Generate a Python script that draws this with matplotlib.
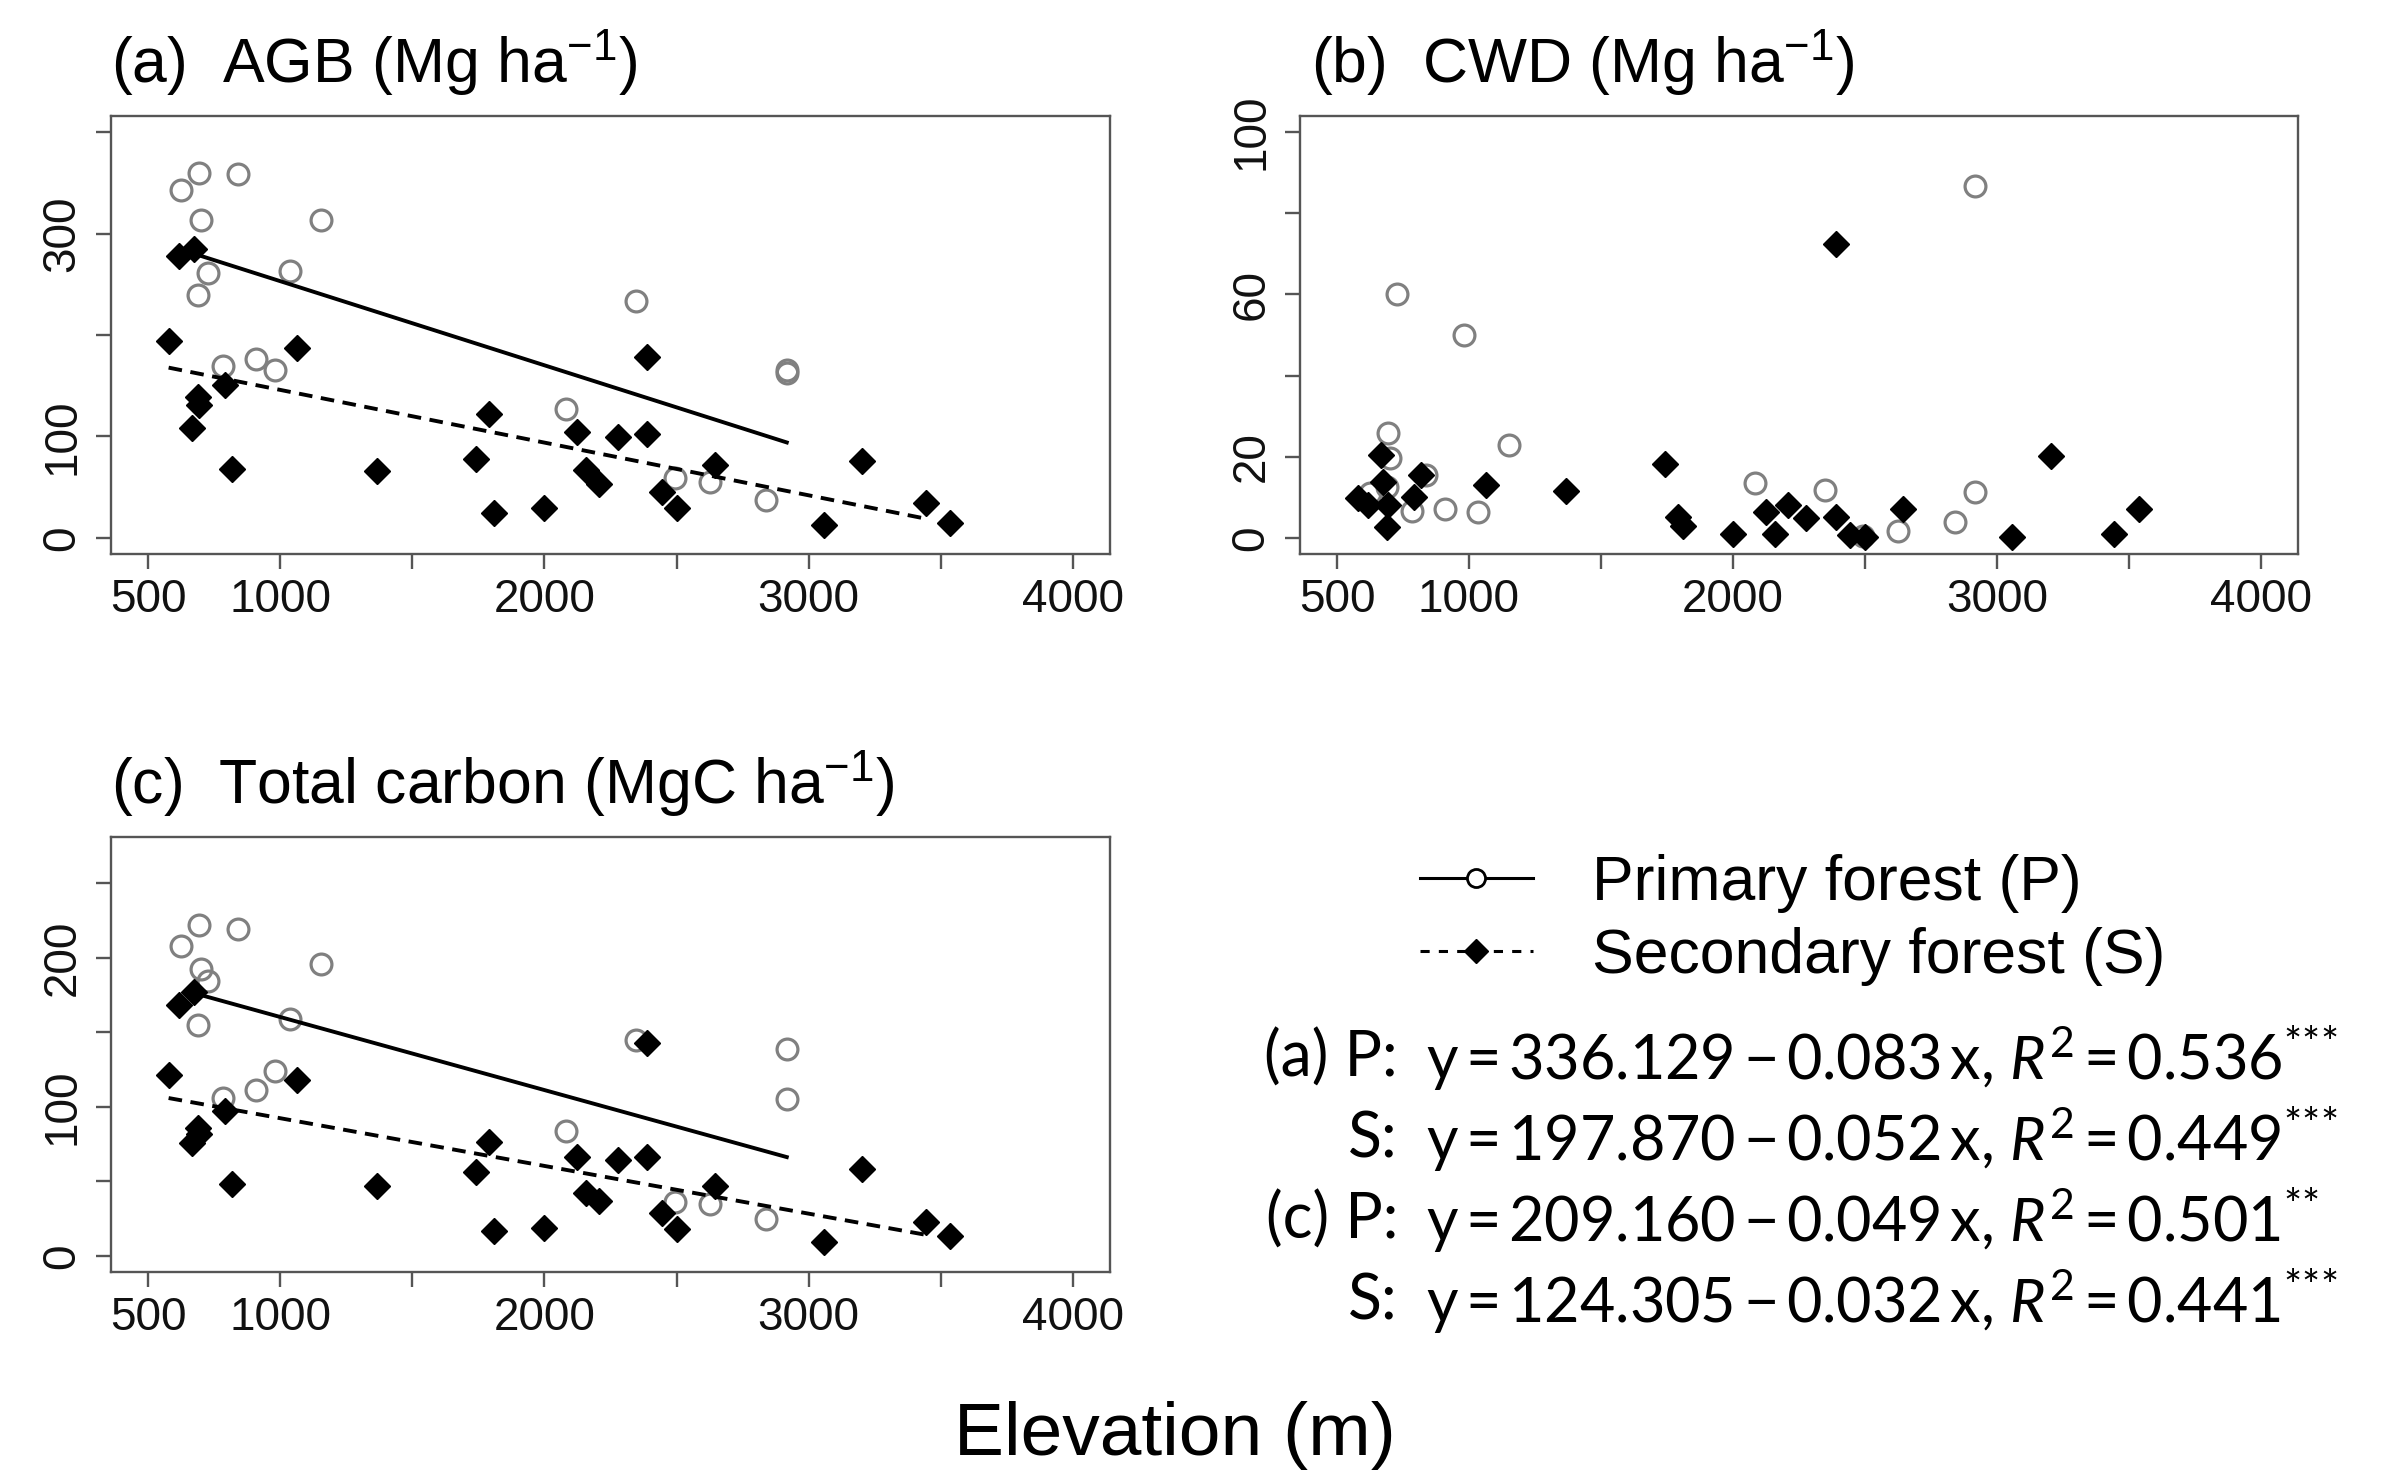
import matplotlib
matplotlib.use("Agg")
import matplotlib.pyplot as plt
from matplotlib.lines import Line2D

plt.rcParams['font.family'] = ['Liberation Sans', 'DejaVu Sans']
plt.rcParams['mathtext.fontset'] = 'custom'
plt.rcParams['mathtext.rm'] = 'Lato'
plt.rcParams['mathtext.it'] = 'Lato:italic'

# Elevation of plots (m)
p_elev = [625, 694, 700, 728, 689, 839, 1153, 1036, 783, 908, 981,
          2347, 2917, 2917, 2083, 2494, 2625, 2839]
s_elev = [578, 619, 675, 667, 689, 694, 792, 819, 1064, 1367, 1742, 1792,
          1811, 2000, 2125, 2158, 2208, 2278, 2389, 2389, 2444, 2500, 2644,
          3056, 3203, 3444, 3536]

# (a) AGB
p_agb = [343, 360, 313, 261, 239, 359, 313, 263, 169, 176, 165,
         234, 163, 165, 127, 59, 55, 37]
s_agb = [194, 278, 285, 108, 139, 131, 151, 68, 187, 66, 78, 122,
         24, 29, 104, 67, 53, 99, 178, 102, 45, 29, 72,
         13, 76, 34, 15]

# (b) CWD
p_cwd = [11, 25.9, 19.6, 60, 12.6, 15.4, 23, 6.3, 6.6, 7.2, 49.9,
         11.7, 86.7, 11.4, 13.5, 0.5, 1.7, 3.9]
s_cwd = [9.8, 8.0, 13.8, 20.4, 2.6, 8.0, 10.1, 15.4, 13.1, 11.5, 18.3, 5.1,
         2.8, 1.0, 6.3, 1.0, 8.2, 4.8, 72.4, 5.1, 0.7, 0.2, 7.1,
         0.2, 20.2, 1.0, 7.1]

# (c) Total carbon
p_tc = [208, 222, 192, 184, 155, 219, 196, 159, 106, 111, 124,
        145, 139, 105, 84, 36, 35, 25]
s_tc = [121, 168, 177, 76, 86, 82, 97, 48.5, 118, 47, 56, 76.6,
        17, 19, 66, 42, 37, 64, 143, 66, 29, 18, 47,
        9, 58, 23, 13]

# regression fits (intercept, slope) and line extents
fit_a = {'P': (336.129, -0.083), 'S': (197.870, -0.052)}
fit_c = {'P': (209.160, -0.049), 'S': (124.305, -0.032)}
p_line_x = [694, 2917]
s_line_x = [578, 3444]

xticks = [500, 1000, 1500, 2000, 2500, 3000, 3500, 4000]
xticklabels = ['500', '1000', '', '2000', '', '3000', '', '4000']

ts = '\u2009'  # thin space
equations = [
    ('(a) P:', 'y' + ts + '=' + ts + '336.129' + ts + '−' + ts + '0.083' + ts + 'x, '
     r'$\mathit{R}^{2}$' + ts + '=' + ts + '0.536$^{{*}{*}{*}}$'),
    ('S:', 'y' + ts + '=' + ts + '197.870' + ts + '−' + ts + '0.052' + ts + 'x, '
     r'$\mathit{R}^{2}$' + ts + '=' + ts + '0.449$^{{*}{*}{*}}$'),
    ('(c) P:', 'y' + ts + '=' + ts + '209.160' + ts + '−' + ts + '0.049' + ts + 'x, '
     r'$\mathit{R}^{2}$' + ts + '=' + ts + '0.501$^{{*}{*}}$'),
    ('S:', 'y' + ts + '=' + ts + '124.305' + ts + '−' + ts + '0.032' + ts + 'x, '
     r'$\mathit{R}^{2}$' + ts + '=' + ts + '0.441$^{{*}{*}{*}}$'),
]

W, H = 2397, 1480
fig = plt.figure(figsize=(W / 100, H / 100), dpi=100)

def px_box(left, top, right, bottom):
    return [left / W, 1 - bottom / H, (right - left) / W, (bottom - top) / H]

ax_a = fig.add_axes(px_box(111, 116, 1110, 554))
ax_b = fig.add_axes(px_box(1300, 116, 2298, 554))
ax_c = fig.add_axes(px_box(111, 837, 1110, 1272))

grey = '#808080'
edge = '#555555'


def panel(ax, pv, sv, ylim, yticks, yticklabels, fit=None):
    ax.plot(p_elev, pv, linestyle='none', marker='o', ms=15, mfc='none',
            mec=grey, mew=2.3, zorder=2)
    ax.plot(s_elev, sv, linestyle='none', marker='D', ms=13.5, mfc='black',
            mec='black', mew=1, zorder=3)
    if fit:
        b0, b1 = fit['P']
        ax.plot(p_line_x, [b0 + b1 * x for x in p_line_x], color='black',
                lw=2.8, zorder=4)
        b0, b1 = fit['S']
        ax.plot(s_line_x, [b0 + b1 * x for x in s_line_x], color='black',
                lw=2.8, linestyle=(0, (3.5, 2.2)), zorder=4)
    ax.set_xlim(360, 4140)
    pad = 0.04 * (ylim[1] - ylim[0])
    ax.set_ylim(ylim[0] - pad, ylim[1] + pad)
    ax.set_xticks(xticks)
    ax.set_xticklabels(xticklabels)
    ax.set_yticks(yticks)
    ax.set_yticklabels(yticklabels)
    for s in ax.spines.values():
        s.set_color(edge)
        s.set_linewidth(1.7)
    ax.tick_params(length=11, width=1.7, color=edge, labelsize=33,
                   labelcolor='#111111')
    ax.tick_params(axis='x', pad=6)
    ax.tick_params(axis='y', pad=8)
    plt.setp(ax.get_yticklabels(), rotation=90, va='center')


panel(ax_a, p_agb, s_agb, (0, 400), [0, 100, 200, 300, 400],
      ['0', '100', '', '300', ''], fit_a)
panel(ax_b, p_cwd, s_cwd, (0, 100), [0, 20, 40, 60, 80, 100],
      ['0', '20', '', '60', '', '100'])
panel(ax_c, p_tc, s_tc, (0, 270), [0, 50, 100, 150, 200, 250],
      ['0', '', '100', '', '200', ''], fit_c)

# panel titles
tsize = 45
fig.text(111 / W, 1 - 83 / H, '(a)  AGB (Mg ha$^{\\mathregular{−1}}$)',
         fontsize=tsize, va='baseline', ha='left')
fig.text(1311 / W, 1 - 83 / H, '(b)  CWD (Mg ha$^{\\mathregular{−1}}$)',
         fontsize=tsize, va='baseline', ha='left')
fig.text(111 / W, 1 - 804 / H, '(c)  Total carbon (MgC ha$^{\\mathregular{−1}}$)',
         fontsize=tsize, va='baseline', ha='left')

# legend
handles = [
    Line2D([], [], color='black', lw=2.2, marker='o', ms=13, mfc='white',
           mec='black', mew=2),
    Line2D([], [], color='black', lw=2.2, linestyle=(0, (3, 3)), marker='D',
           ms=12, mfc='black', mec='black'),
]
fig.legend(handles, ['Primary forest (P)', 'Secondary forest (S)'],
           loc='upper left', bbox_to_anchor=(1420 / W, 1 - 854 / H),
           frameon=False, fontsize=45, handlelength=1.8, handletextpad=0.95,
           borderpad=0, borderaxespad=0, labelspacing=0.22)

# regression equations
for i, (lab, eq) in enumerate(equations):
    yy = 1 - (1058 + i * 81) / H
    fig.text(1398 / W, yy, lab, family=['Lato', 'DejaVu Sans'], fontsize=45,
             ha='right', va='center')
    fig.text(1426 / W, yy, eq, family=['Lato', 'DejaVu Sans'], fontsize=44,
             ha='left', va='center')

fig.text(1175 / W, 1 - 1435 / H, 'Elevation (m)', fontsize=54,
         ha='center', va='center')

fig.savefig('out.png', dpi=100)
